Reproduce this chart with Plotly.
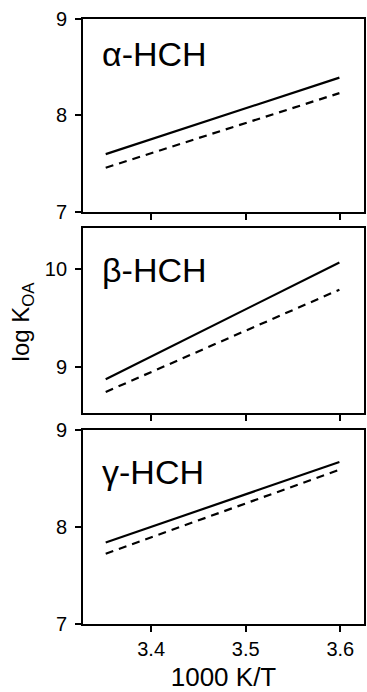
import plotly.graph_objects as go

# x: 1000 K / T at the ends of each regression line
inv_T = [3.352, 3.599]

# log KOA, solid and dashed lines per isomer
alpha_solid = [7.60, 8.39]
alpha_dashed = [7.46, 8.23]
beta_solid = [8.87, 10.07]
beta_dashed = [8.74, 9.79]
gamma_solid = [7.84, 8.67]
gamma_dashed = [7.725, 8.59]

panel_labels = ["α-HCH", "β-HCH", "γ-HCH"]
y_ranges = [[7, 9], [8.524, 10.42], [7, 9]]
y_tickvals = [[7, 8, 9], [9, 10], [7, 8, 9]]
x_tickvals = [3.4, 3.5, 3.6]
x_ticktext = ["3.4", "3.5", "3.6"]

FONT = "Liberation Sans, Arial, sans-serif"

fig = go.Figure()

series = [
    (alpha_solid, alpha_dashed),
    (beta_solid, beta_dashed),
    (gamma_solid, gamma_dashed),
]
axes = [("x", "y"), ("x2", "y2"), ("x3", "y3")]
for (s, d), (xa, ya) in zip(series, axes):
    fig.add_trace(go.Scatter(x=inv_T, y=s, mode="lines", xaxis=xa, yaxis=ya,
                             line=dict(color="black", width=2.2), showlegend=False))
    fig.add_trace(go.Scatter(x=inv_T, y=d, mode="lines", xaxis=xa, yaxis=ya,
                             line=dict(color="black", width=2.2, dash="8px,6px"),
                             showlegend=False))

# plot area from y=18 to y=624 (606 px)
H_TOP, H_BOT = 18, 624
span = H_BOT - H_TOP
def dom(top_px, bot_px):
    return [(H_BOT - bot_px) / span, (H_BOT - top_px) / span]

domains = [dom(18.5, 212.3), dom(228.3, 413), dom(430, 624)]

axis_common = dict(showline=True, linecolor="black", linewidth=1.8, mirror=True,
                   ticks="outside", ticklen=6, tickwidth=1.8, tickcolor="black",
                   showgrid=False, zeroline=False,
                   tickfont=dict(family=FONT, size=20, color="black"))

x_range = [3.328, 3.625]
layout = dict(
    width=367, height=692,
    margin=dict(l=83, r=1, t=H_TOP, b=692 - H_BOT),
    paper_bgcolor="white", plot_bgcolor="white",
    font=dict(family=FONT, color="black"),
)
for i, name in enumerate(["", "2", "3"]):
    layout["xaxis" + name] = dict(range=x_range, tickvals=x_tickvals, ticktext=x_ticktext,
                                  showticklabels=(i == 2), anchor="y" + name,
                                  domain=[0, 1], **axis_common)
    layout["yaxis" + name] = dict(range=y_ranges[i], tickvals=y_tickvals[i],
                                  domain=domains[i], anchor="x" + name, ticklabelstandoff=4,
                                  **axis_common)
layout["xaxis3"]["title"] = dict(text="1000 K/T", font=dict(family=FONT, size=26, color="black"),
                                 standoff=13)
fig.update_layout(**layout)

# panel labels
label_y = [53.5, 270, 472]
ann = []
for i, name in enumerate(["", "2", "3"]):
    ann.append(dict(text=panel_labels[i], xref="paper", yref="paper",
                    x=(100 - 83) / (366 - 83), y=(H_BOT - label_y[i]) / span,
                    xanchor="left", yanchor="middle", showarrow=False,
                    font=dict(family=FONT, size=34, color="black")))
ann.append(dict(text="log K<sub>OA</sub>", xref="paper", yref="paper",
                x=(22 - 83) / (366 - 83), y=(H_BOT - 321) / span, textangle=-90,
                xanchor="center", yanchor="middle", showarrow=False,
                font=dict(family=FONT, size=24, color="black")))
fig.update_layout(annotations=ann)

fig.write_html("out.html", config={"displayModeBar": False},
               post_script="document.body.style.margin='0';document.body.style.overflow='hidden';")
